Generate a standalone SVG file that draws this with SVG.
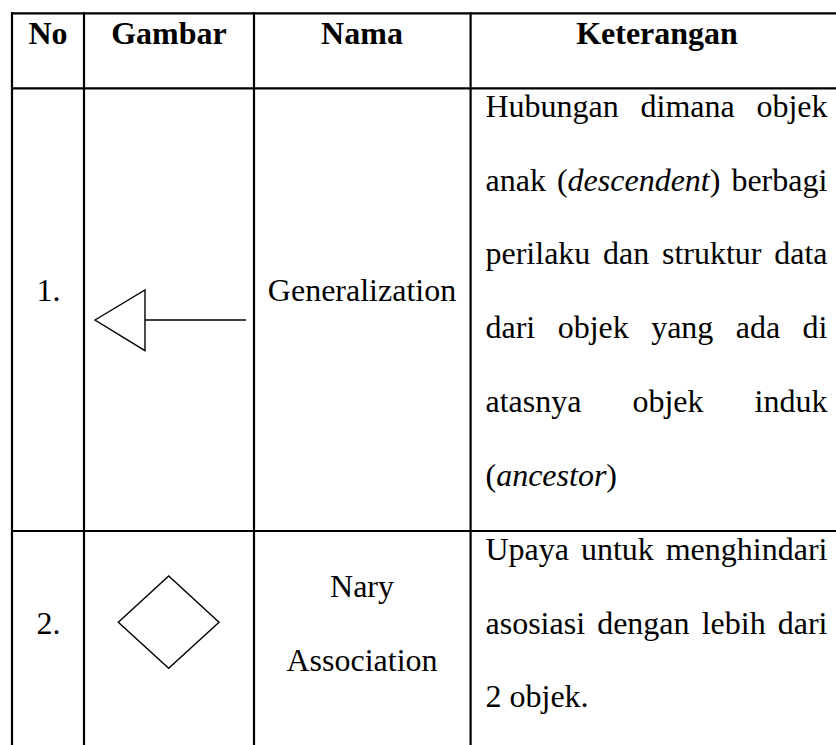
<svg xmlns="http://www.w3.org/2000/svg" width="836" height="745" viewBox="0 0 836 745">
<style>
.grid line{stroke:#000;stroke-width:2.2}
.t{font-family:"Liberation Serif","Times New Roman",serif;font-size:32px;fill:#000}
.h{font-weight:bold;text-anchor:middle}
.c{text-anchor:middle}
.sym{fill:none;stroke:#000;stroke-width:1.4}
</style>
<rect width="836" height="745" fill="#fff"/>
<g id="grid" class="grid">
<line x1="11" y1="13.3" x2="836" y2="13.3"/>
<line x1="11" y1="88.3" x2="836" y2="88.3"/>
<line x1="11" y1="531" x2="836" y2="531"/>
<line x1="12" y1="12.2" x2="12" y2="745"/>
<line x1="84" y1="12.2" x2="84" y2="745"/>
<line x1="254" y1="12.2" x2="254" y2="745"/>
<line x1="470.6" y1="12.2" x2="470.6" y2="745"/>
</g>
<g id="header">
<text class="t h" x="48" y="44">No</text>
<text class="t h" x="169" y="44">Gambar</text>
<text class="t h" x="362" y="44">Nama</text>
<text class="t h" x="657" y="44">Keterangan</text>
</g>
<g id="row1">
<text class="t c" x="48.5" y="301.3">1.</text>
<g id="generalization-symbol" class="sym">
<polygon points="95,320 145,290 145,350.7"/>
<line x1="145" y1="320" x2="246" y2="320"/>
</g>
<text class="t c" x="362" y="301.3">Generalization</text>
<g id="desc1" class="t">
<text x="485.5" y="117" word-spacing="13.7">Hubungan dimana objek</text>
<text x="485.5" y="190.7" word-spacing="3">anak (<tspan font-style="italic">descendent</tspan>) berbagi</text>
<text x="485.5" y="264.4" word-spacing="4.7">perilaku dan struktur data</text>
<text x="485.5" y="338" word-spacing="14.4">dari objek yang ada di</text>
<text x="485.5" y="411.8" word-spacing="43">atasnya objek induk</text>
<text x="485.5" y="485.5">(<tspan font-style="italic">ancestor</tspan>)</text>
</g>
</g>
<g id="row2">
<text class="t c" x="48.5" y="633.8">2.</text>
<g id="nary-symbol" class="sym">
<polygon points="118.3,622.3 168.7,576 219,622.3 168.7,668.3"/>
</g>
<text class="t c" x="362" y="597.1">Nary</text>
<text class="t c" x="362" y="670.5">Association</text>
<g id="desc2" class="t">
<text x="485.5" y="560.2" word-spacing="3.9">Upaya untuk menghindari</text>
<text x="485.5" y="633.8" word-spacing="4.1">asosiasi dengan lebih dari</text>
<text x="485.5" y="707.4">2 objek.</text>
</g>
</g>
<g id="connectors"></g>
</svg>
